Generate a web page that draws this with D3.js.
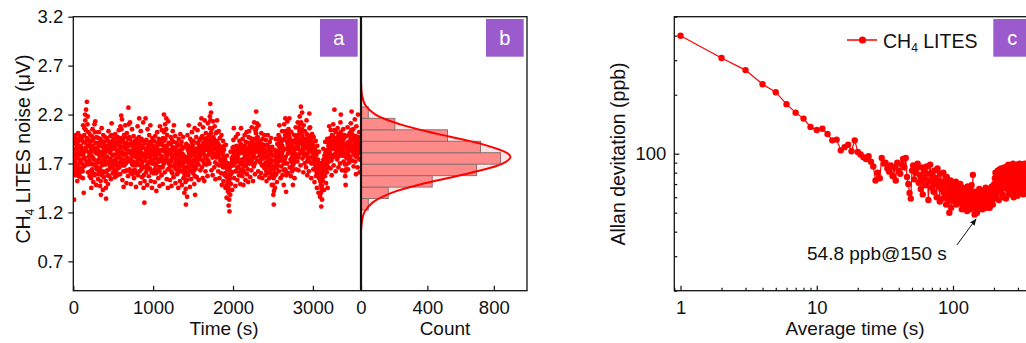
<!DOCTYPE html>
<html><head><meta charset="utf-8">
<script src="https://cdn.jsdelivr.net/npm/d3@7"></script>
<style>body{margin:0;background:#fff;overflow:hidden} text{font-family:"Liberation Sans",Arial,sans-serif;fill:#111}</style>
</head><body><svg id="c" width="1026" height="343"></svg>
<script>
// ---------- data ----------
// panel a: LITES noise (uV); series A sampled at 0,5,10,... s, series B at 2.5,7.5,12.5,... s
const noiseStep = 5;
const noiseA = [
1.62,1.85,1.33,1.94,1.71,1.58,1.99,1.80,1.66,1.90,1.52,1.77,2.01,1.69,1.84,1.60,1.95,1.73,1.56,1.88,
1.79,1.64,1.97,1.83,1.55,1.92,1.40,1.75,2.06,1.68,2.14,1.86,2.25,1.72,2.33,1.94,2.18,1.61,2.02,1.77,
1.88,1.57,1.99,1.70,1.82,1.45,1.93,1.64,2.05,1.76,1.51,1.86,1.69,2.10,1.59,2.13,1.81,1.48,1.97,1.73,
1.66,1.91,1.54,1.83,2.02,1.62,1.78,1.47,1.95,1.38,1.71,2.06,1.58,1.87,1.43,1.99,1.74,1.61,1.92,1.69,
1.81,1.52,1.34,1.76,1.96,1.63,1.85,1.49,2.03,1.72,1.57,1.90,1.67,1.98,1.54,1.84,2.11,1.70,1.93,1.60,
1.78,1.95,1.64,1.87,1.56,2.00,1.73,1.61,1.92,1.83,1.58,1.97,1.69,1.81,2.04,1.66,1.89,1.59,2.08,1.75,
2.19,1.71,2.15,1.53,1.94,1.79,1.46,1.99,1.68,1.86,2.09,1.62,1.91,1.50,2.01,1.76,1.88,1.57,2.27,1.83,
1.97,1.64,2.12,1.72,1.49,1.89,1.78,2.05,1.59,1.84,1.68,1.98,1.55,1.81,1.93,1.63,1.87,1.46,1.76,1.95,
1.70,2.08,1.58,1.92,1.79,2.16,1.62,1.85,1.50,2.03,1.74,1.95,1.56,1.88,1.67,2.12,1.45,1.80,1.30,1.91,
1.73,2.16,1.61,1.94,1.82,1.48,2.05,1.69,1.87,1.57,1.99,1.76,1.64,2.09,1.52,1.90,1.79,1.45,1.96,1.71,
1.84,1.60,1.93,1.75,1.51,1.98,1.68,1.86,1.42,1.80,2.02,1.63,1.89,1.55,1.95,1.72,1.47,2.08,1.66,1.83,
1.92,1.58,2.04,1.77,1.49,1.96,1.69,2.20,1.85,1.61,2.10,1.74,1.88,2.16,1.54,1.99,1.81,1.45,2.13,1.70,
1.65,1.90,1.53,1.83,1.97,1.72,1.47,1.94,1.60,2.03,1.78,1.56,2.09,1.86,1.66,1.98,1.50,1.82,1.73,1.91,
1.59,1.88,1.70,1.45,1.95,1.64,1.81,1.52,2.00,1.75,1.62,1.92,1.48,1.85,1.69,1.97,1.55,1.78,1.40,1.87,
1.73,1.51,1.28,1.90,1.66,1.36,1.99,1.77,1.58,2.09,1.62,1.86,1.46,1.95,1.71,1.54,1.83,2.02,1.67,1.89,
1.60,1.93,1.74,1.49,2.06,1.38,1.85,1.65,1.97,1.56,1.80,2.04,1.69,1.91,1.53,1.87,1.76,2.10,1.63,1.95,
1.81,2.16,1.66,1.98,1.55,2.07,1.74,1.89,1.52,2.14,1.78,1.62,2.01,1.85,1.69,1.96,1.57,2.11,1.73,1.88,
1.99,1.70,2.18,2.31,1.84,2.22,1.63,2.05,1.92,1.58,2.13,1.79,1.95,1.66,2.08,1.87,1.54,2.01,1.76,1.93,
2.14,1.69,1.90,1.62,2.03,1.80,1.55,1.96,1.73,1.87,1.60,1.99,1.48,1.82,1.67,1.93,1.52,1.77,1.88,1.58,
1.74,1.45,1.89,1.57,1.35,1.78,1.63,1.42,1.70,1.27,1.52,1.21,1.66,1.38,1.82,1.49,1.60,1.75,1.43,1.86,
1.68,1.94,2.06,1.55,1.81,1.71,1.47,1.97,1.62,1.88,1.76,1.53,2.00,1.66,1.85,1.58,1.93,1.73,1.49,1.90,
2.06,1.64,1.83,1.57,1.95,1.72,1.48,1.87,1.61,1.99,1.78,1.53,1.92,1.68,2.02,1.59,1.84,1.74,1.51,1.97,
2.03,1.70,1.88,1.56,1.96,1.79,1.63,2.07,1.74,1.90,1.52,1.85,1.67,2.12,1.81,1.59,2.04,1.76,2.23,1.89,
2.11,1.73,1.97,1.62,2.09,1.84,1.56,1.93,1.71,1.88,1.60,2.01,1.79,1.55,1.95,1.68,1.86,1.76,1.99,1.65,
1.82,1.58,1.94,1.71,1.52,1.89,1.66,1.99,1.77,1.60,1.85,1.55,1.92,1.74,1.63,1.96,1.69,1.48,1.87,1.73,
1.57,1.38,1.28,1.66,1.84,1.45,1.72,1.95,1.59,1.81,1.51,1.90,1.68,1.77,1.99,1.62,2.09,1.74,1.86,1.55,
1.91,1.67,1.80,2.03,1.58,1.94,1.73,1.48,2.10,1.85,1.64,2.16,1.77,1.41,1.98,1.70,2.13,1.89,1.60,2.05,
1.83,2.16,1.66,1.95,1.74,1.57,2.02,1.88,1.62,1.79,1.48,1.93,1.70,1.99,1.55,1.86,1.76,2.07,1.64,1.90,
1.97,1.72,2.12,1.85,1.63,2.06,1.79,2.18,1.93,1.68,2.28,2.01,1.83,2.22,1.75,1.96,1.61,2.09,1.88,1.70,
2.03,1.80,1.92,1.66,2.14,1.87,1.58,1.99,1.74,1.90,1.62,2.21,1.84,2.07,1.71,1.95,1.55,1.86,2.00,1.77,
1.89,1.64,1.97,1.73,1.51,1.85,1.68,1.93,1.57,1.79,1.45,1.88,1.62,1.74,1.40,1.82,1.55,1.70,1.36,1.66,
1.48,1.26,1.59,1.33,1.71,1.52,1.85,1.64,1.43,1.78,1.57,1.92,1.69,1.50,1.83,1.61,1.95,1.45,1.75,1.88,
1.72,2.08,1.81,1.96,1.65,2.04,1.87,1.58,1.99,1.76,1.91,2.10,1.68,1.85,2.25,1.79,1.94,1.62,2.02,1.83,
1.95,1.74,2.06,1.88,1.66,2.00,1.81,1.93,1.70,2.12,2.20,1.84,1.97,1.63,1.91,1.78,2.05,1.72,1.89,1.99,
1.80,1.57,1.48,1.86,1.69,1.98,1.75,2.07,1.64,1.92,1.83,1.71,2.01,1.90,1.77,2.11,1.85,2.23,1.96,1.73,
1.88,2.05,1.67,1.94,1.79,2.15,1.72,1.98,1.59,2.08,1.84,1.92,1.66,2.20,1.87,1.75,2.02,1.61,1.93,1.81
];
const noiseB = [
1.78,1.66,1.90,1.72,1.84,1.61,1.95,1.75,1.69,1.87,1.63,1.92,1.79,1.57,1.83,1.71,1.98,1.65,1.81,1.74,
1.86,1.70,1.93,1.62,2.09,1.80,1.67,1.99,1.76,2.20,1.91,2.04,1.83,1.96,1.72,2.10,1.88,1.69,1.94,1.81,
1.73,1.92,1.62,1.85,1.55,1.78,1.98,1.69,1.88,1.60,1.95,1.74,1.83,1.58,2.02,1.91,1.67,1.86,1.64,1.80,
1.84,1.71,1.96,1.59,1.88,1.75,1.65,1.91,1.52,1.80,1.93,1.68,1.82,1.62,1.78,1.89,1.56,1.85,1.73,1.97,
1.69,1.45,1.62,1.88,1.77,1.94,1.58,1.83,1.70,1.92,1.64,1.81,1.75,1.86,1.67,1.99,1.90,1.79,1.72,1.85,
1.87,1.73,1.91,1.68,1.79,1.85,1.62,1.97,1.75,1.70,1.89,1.65,1.83,1.94,1.77,1.92,1.71,1.86,1.96,1.80,
2.05,1.92,1.82,1.68,1.87,1.62,1.74,1.91,1.79,1.97,1.85,1.70,1.80,1.63,1.89,1.83,1.72,1.95,2.10,1.90,
1.81,1.88,1.95,1.61,1.74,1.82,1.91,1.69,1.78,1.72,1.89,1.63,1.86,1.71,1.85,1.77,1.68,1.60,1.90,1.83,
1.87,1.79,1.73,1.84,1.97,1.91,1.75,1.68,1.82,1.88,1.64,1.80,1.71,1.77,1.93,1.86,1.58,1.66,1.52,1.79,
1.92,1.85,1.76,1.83,1.68,1.64,1.89,1.80,1.71,1.79,1.86,1.65,1.92,1.84,1.74,1.81,1.61,1.70,1.83,1.88,
1.71,1.79,1.83,1.64,1.70,1.86,1.77,1.60,1.68,1.91,1.85,1.74,1.72,1.82,1.80,1.62,1.66,1.93,1.78,1.75,
1.76,1.84,1.89,1.66,1.72,1.83,1.93,2.02,1.71,1.86,1.95,1.80,2.05,1.87,1.77,1.82,1.64,1.73,1.91,1.84,
1.80,1.72,1.68,1.90,1.81,1.62,1.75,1.77,1.87,1.84,1.67,1.92,1.79,1.76,1.85,1.70,1.73,1.64,1.83,1.78,
1.74,1.79,1.61,1.68,1.82,1.73,1.67,1.84,1.78,1.89,1.76,1.70,1.72,1.80,1.86,1.63,1.71,1.66,1.59,1.75,
1.62,1.44,1.58,1.75,1.53,1.71,1.84,1.66,1.88,1.81,1.74,1.69,1.77,1.83,1.63,1.70,1.92,1.79,1.86,1.72,
1.79,1.82,1.63,1.78,1.57,1.68,1.73,1.85,1.71,1.76,1.91,1.82,1.80,1.69,1.74,1.83,1.94,1.86,1.78,1.84,
1.96,1.88,1.84,1.73,1.82,1.91,1.80,1.70,1.86,1.95,1.69,1.84,1.93,1.77,1.87,1.74,1.89,1.92,1.83,1.79,
1.86,1.94,2.06,2.14,2.01,1.90,1.82,1.96,1.76,1.88,1.97,1.85,1.80,1.91,1.93,1.71,1.78,1.87,1.84,2.02,
1.92,1.81,1.77,1.85,1.89,1.68,1.79,1.83,1.80,1.74,1.86,1.69,1.72,1.75,1.81,1.66,1.70,1.84,1.73,1.67,
1.60,1.66,1.71,1.48,1.56,1.69,1.52,1.58,1.45,1.40,1.33,1.50,1.55,1.62,1.59,1.70,1.68,1.61,1.73,1.77,
1.82,1.87,1.79,1.70,1.75,1.62,1.83,1.78,1.74,1.81,1.66,1.77,1.85,1.73,1.71,1.80,1.84,1.61,1.69,1.86,
1.89,1.74,1.70,1.81,1.84,1.63,1.68,1.75,1.82,1.88,1.67,1.79,1.80,1.86,1.77,1.72,1.78,1.64,1.76,1.91,
1.86,1.80,1.73,1.82,1.89,1.71,1.85,1.92,1.83,1.77,1.69,1.78,1.88,1.95,1.70,1.84,1.90,2.01,2.06,1.94,
1.96,1.87,1.82,1.86,1.91,1.72,1.78,1.81,1.80,1.74,1.85,1.90,1.68,1.77,1.83,1.79,1.75,1.89,1.84,1.76,
1.70,1.77,1.81,1.62,1.69,1.76,1.84,1.88,1.67,1.73,1.70,1.79,1.83,1.68,1.80,1.82,1.59,1.66,1.78,1.65,
1.48,1.55,1.42,1.61,1.67,1.58,1.80,1.76,1.70,1.65,1.74,1.79,1.83,1.72,1.88,1.94,1.97,1.81,1.73,1.78,
1.79,1.86,1.93,1.88,1.76,1.83,1.63,1.70,1.95,1.74,1.99,2.03,1.62,1.58,1.85,1.92,2.01,1.80,1.84,1.94,
1.98,1.93,1.82,1.86,1.66,1.72,1.90,1.76,1.71,1.68,1.64,1.81,1.84,1.78,1.73,1.80,1.91,1.95,1.79,1.85,
1.87,1.94,1.99,1.76,1.89,1.92,2.03,2.10,1.82,1.95,2.12,1.90,2.05,1.98,1.86,1.83,1.80,1.93,1.78,1.88,
1.91,1.86,1.79,1.95,2.00,1.72,1.77,1.89,1.84,1.81,1.93,2.06,1.97,1.88,1.83,1.76,1.70,1.92,1.87,1.81,
1.76,1.83,1.80,1.64,1.71,1.77,1.82,1.75,1.69,1.61,1.66,1.73,1.68,1.58,1.62,1.70,1.63,1.55,1.52,1.57,
1.40,1.44,1.47,1.55,1.62,1.68,1.74,1.58,1.65,1.70,1.76,1.81,1.63,1.72,1.78,1.84,1.68,1.66,1.82,1.79,
1.90,1.93,1.86,1.80,1.84,1.95,1.73,1.78,1.87,1.89,1.98,1.92,1.77,1.96,2.04,1.88,1.80,1.85,1.91,1.94,
1.84,1.90,1.97,1.77,1.83,1.91,1.87,1.82,1.95,2.02,1.99,1.90,1.78,1.85,1.84,1.93,1.88,1.81,1.96,1.86,
1.69,1.62,1.64,1.76,1.81,1.85,1.91,1.88,1.79,1.83,1.75,1.87,1.92,1.84,1.95,1.98,2.04,2.01,1.86,1.82,
1.93,1.96,1.80,1.86,1.98,1.90,1.83,1.77,1.85,1.94,1.88,1.79,1.92,1.97,1.81,1.84,1.89,1.74,1.86,1.91
];
const noiseTicks = [0.7, 1.2, 1.7, 2.2, 2.7, 3.2];
const timeTicks = [0, 1000, 2000, 3000];

// panel b: histogram of the noise
const histBinEdges = [1.225, 1.342, 1.459, 1.576, 1.693, 1.810, 1.927, 2.044, 2.161, 2.278];
const histCounts = [44, 164, 429, 696, 840, 720, 521, 204, 44];
const fitNoise = [1.02, 1.10, 1.20, 1.30, 1.40, 1.50, 1.60, 1.70, 1.765, 1.80, 1.90, 2.00, 2.10, 2.20, 2.30, 2.40, 2.52];
const fitCount = [1, 5, 20, 69, 184, 390, 651, 856, 900, 887, 725, 467, 237, 88, 25, 6, 1];
const countTicks = [0, 400, 800];

// panel c: Allan deviation (ppb) for averaging times 1,2,3,... s
const allanDev = [
400,308,267,226,206,179,162,151,137,132,134,126,117,118,104,108,111,103,117,102,
99,96,94,97,91,86,73,80,75,95,
89,90,84,81,87,77,85,73,90,82,
79,88,94,85,95,76,70,63,59,82,
87,74,80,84,89,71,78,66,85,62,
75,81,69,86,73,58,79,88,72,67,
77,64,82,70,75,60,84,68,73,57,
79,66,71,59,80,63,69,74,55,76,
62,70,58,50,67,73,53,65,60,71,
64,57,69,61,72,55,66,59,63,68,
56,62,70,58,65,52,60,67,54,63,
59,66,53,61,57,64,51,68,58,62,
55,60,65,52,63,57,69,54,61,78,
58,62,53,49,60,56,64,51,59,50,
57,63,54,60,52,66,58,55,61,53,
59,65,56,62,52,58,64,55,60,57,
63,54,59,67,56,61,53,58,65,57,
60,55,62,58,66,53,61,57,64,59,
56,62,68,58,63,55,60,66,59,64,
70,62,75,66,80,60,72,68,77,63,
74,69,82,65,78,71,58,76,67,83,
72,79,64,75,70,84,66,77,73,62,
78,69,81,74,60,76,71,85,67,79,
73,82,68,77,59,75,80,70,86,72,
78,66,83,74,88,70,76,62,81,73,
79,68,85,75,71,87,64,77,82,69,
86,74,80,66,78,89,72,76,60,83,
75,81,70,87,73,78,64,84,71,79,
68,82,76,88,72,80,61,77,85,74,
79,70,86,73,81,66,77,89,72,83,
75,80,63,84,71,78,87,69,82,74,
88,76,81,67,79,85,72,78,62,83,
77,86,70,80,74,89,68,81,76,84,
73,79,87,71,82,66,78,85,75,80
];
const tauMajorTicks = [1, 10, 100];
const tauDecades = [1, 10, 100, 1000];
const devMajorTicks = [100];
const annotation = {text: "54.8 ppb@150 s", tau: 150, dev: 48.7};

// ---------- drawing ----------
const svg = d3.select('#c');
const RED = '#ff0000', PURPLE = '#9c5bcd';
const TICK_FS = '18.5px', TITLE_FS = '19px';

const pTop = 16.7, pBottom = 290.7;
const xa = d3.scaleLinear().domain([0, 3600]).range([73.3, 360.8]);
const ya = d3.scaleLinear().domain([0.4, 3.2]).range([pBottom, pTop]);
const xb = d3.scaleLinear().domain([0, 1000]).range([361, 527]);
const xc = d3.scaleLog().domain([0.9, 1200]).range([674.3, 1100]);
const yc = d3.scaleLog().domain([20, 500]).range([pBottom, pTop]);

const defs = svg.append('defs');
defs.append('clipPath').attr('id', 'clipA').append('rect')
  .attr('x', xa.range()[0]).attr('y', pTop).attr('width', xa.range()[1] - xa.range()[0]).attr('height', pBottom - pTop);
defs.append('clipPath').attr('id', 'clipC').append('rect')
  .attr('x', xc.range()[0]).attr('y', pTop).attr('width', xc.range()[1] - xc.range()[0]).attr('height', pBottom - pTop);
defs.append('marker').attr('id', 'arr').attr('viewBox', '0 0 10 10').attr('refX', 9).attr('refY', 5)
  .attr('markerWidth', 7).attr('markerHeight', 7).attr('orient', 'auto')
  .append('path').attr('d', 'M0,1 L10,5 L0,9 Z').attr('fill', '#111');

function styleAxis(g, fs) {
  g.select('.domain').remove();
  g.selectAll('line').attr('stroke', '#111').attr('stroke-width', 1.2);
  g.selectAll('text').attr('font-size', fs).attr('font-family', '"Liberation Sans", Arial, sans-serif').attr('fill', '#111');
}

// ----- panel a -----
const gA = svg.append('g').attr('clip-path', 'url(#clipA)');
const noisePts = noiseA.map((v, i) => [i * noiseStep, v])
  .concat(noiseB.map((v, i) => [i * noiseStep + noiseStep / 2, v]));
gA.selectAll('circle').data(noisePts).join('circle')
  .attr('cx', d => xa(d[0])).attr('cy', d => ya(d[1])).attr('r', 2.4).attr('fill', RED);

svg.append('g').attr('transform', `translate(${xa.range()[0]},0)`)
  .call(d3.axisLeft(ya).tickValues(noiseTicks).tickFormat(d3.format('.1f')).tickSize(5).tickPadding(5))
  .call(g => styleAxis(g, TICK_FS));
svg.append('g').attr('transform', `translate(0,${pBottom})`)
  .call(d3.axisBottom(xa).tickValues(timeTicks).tickFormat(d3.format('d')).tickSizeInner(-5).tickSizeOuter(0).tickPadding(10.5))
  .call(g => styleAxis(g, TICK_FS));

// ----- panel b -----
const area = d3.area().y(d => ya(d[0])).x0(xb(0)).x1(d => xb(d[1])).curve(d3.curveCatmullRom);
const line = d3.line().y(d => ya(d[0])).x(d => xb(d[1])).curve(d3.curveCatmullRom);
const fitPts = fitNoise.map((v, i) => [v, fitCount[i]]);
svg.append('path').attr('d', area(fitPts)).attr('fill', '#fde2e2');
svg.append('g').selectAll('rect').data(histCounts).join('rect')
  .attr('x', xb(0)).attr('y', (d, i) => ya(histBinEdges[i + 1]))
  .attr('width', d => xb(d) - xb(0)).attr('height', (d, i) => ya(histBinEdges[i]) - ya(histBinEdges[i + 1]))
  .attr('fill', '#ff8a8a').attr('stroke', '#8c7070').attr('stroke-width', 1);
svg.append('path').attr('d', line(fitPts)).attr('fill', 'none').attr('stroke', RED).attr('stroke-width', 2);

svg.append('g').attr('transform', `translate(0,${pBottom})`)
  .call(d3.axisBottom(xb).tickValues(countTicks).tickFormat(d3.format('d')).tickSizeInner(-5).tickSizeOuter(0).tickPadding(10.5))
  .call(g => styleAxis(g, TICK_FS));

// frames a & b
svg.append('rect').attr('x', xa.range()[0]).attr('y', pTop).attr('width', xb.range()[1] - xa.range()[0]).attr('height', pBottom - pTop)
  .attr('fill', 'none').attr('stroke', '#111').attr('stroke-width', 1.3);
svg.append('line').attr('x1', xb(0)).attr('x2', xb(0)).attr('y1', pTop).attr('y2', pBottom)
  .attr('stroke', '#111').attr('stroke-width', 2.2);

// ----- panel c -----
const gC = svg.append('g').attr('clip-path', 'url(#clipC)');
const allanPts = allanDev.map((v, i) => [i + 1, v]);
gC.append('path').attr('d', d3.line().x(d => xc(d[0])).y(d => yc(d[1]))(allanPts))
  .attr('fill', 'none').attr('stroke', RED).attr('stroke-width', 1.2);
gC.selectAll('circle').data(allanPts).join('circle')
  .attr('cx', d => xc(d[0])).attr('cy', d => yc(d[1])).attr('r', 3.2).attr('fill', RED);

const xMinor = xc.ticks().filter(t => !tauDecades.includes(t) && xc(t) < 1026);
const yMinor = yc.ticks().filter(t => !devMajorTicks.includes(t));
svg.append('g').attr('transform', `translate(0,${pBottom})`)
  .call(d3.axisBottom(xc).tickValues(tauMajorTicks).tickFormat(d3.format('d')).tickSizeInner(-5).tickSizeOuter(0).tickPadding(10.5))
  .call(g => styleAxis(g, TICK_FS));
svg.append('g').attr('transform', `translate(0,${pBottom})`)
  .call(d3.axisBottom(xc).tickValues(xMinor).tickFormat('').tickSizeInner(-3).tickSizeOuter(0))
  .call(g => styleAxis(g, TICK_FS));
svg.append('g').attr('transform', `translate(${xc.range()[0]},0)`)
  .call(d3.axisLeft(yc).tickValues(devMajorTicks).tickFormat(d3.format('d')).tickSizeInner(-5).tickSizeOuter(0).tickPadding(8))
  .call(g => styleAxis(g, TICK_FS));
svg.append('g').attr('transform', `translate(${xc.range()[0]},0)`)
  .call(d3.axisLeft(yc).tickValues(yMinor).tickFormat('').tickSizeInner(-3).tickSizeOuter(0))
  .call(g => styleAxis(g, TICK_FS));
svg.append('rect').attr('x', xc.range()[0]).attr('y', pTop).attr('width', xc.range()[1] - xc.range()[0]).attr('height', pBottom - pTop)
  .attr('fill', 'none').attr('stroke', '#111').attr('stroke-width', 1.3);

// legend c
svg.append('line').attr('x1', 847).attr('x2', 877).attr('y1', 40).attr('y2', 40).attr('stroke', RED).attr('stroke-width', 1.5);
svg.append('circle').attr('cx', 862.5).attr('cy', 40).attr('r', 3.6).attr('fill', RED);
const lg = svg.append('text').attr('x', 883).attr('y', 48).attr('font-size', '19.5px');
lg.append('tspan').text('CH');
lg.append('tspan').attr('font-size', '12px').attr('dy', 4).text('4');
lg.append('tspan').attr('dy', -4).text(' LITES');

// annotation
const ax = xc(annotation.tau), ay = yc(annotation.dev);
svg.append('line').attr('x1', ax - 20).attr('y1', ay + 30).attr('x2', ax - 1).attr('y2', ay + 4)
  .attr('stroke', '#111').attr('stroke-width', 1).attr('marker-end', 'url(#arr)');
svg.append('text').attr('x', 807).attr('y', 260).attr('font-size', '19px').text(annotation.text);

// axis titles
svg.append('text').attr('x', 224).attr('y', 334.5).attr('text-anchor', 'middle').attr('font-size', TITLE_FS).text('Time (s)');
svg.append('text').attr('x', 445).attr('y', 334.5).attr('text-anchor', 'middle').attr('font-size', TITLE_FS).text('Count');
svg.append('text').attr('x', 855).attr('y', 334.5).attr('text-anchor', 'middle').attr('font-size', TITLE_FS).text('Average time (s)');
const yt = svg.append('text').attr('transform', 'translate(30,149) rotate(-90)').attr('text-anchor', 'middle').attr('font-size', '19.5px');
yt.append('tspan').text('CH');
yt.append('tspan').attr('font-size', '12px').attr('dy', 4).text('4');
yt.append('tspan').attr('dy', -4).text(' LITES noise (μV)');
svg.append('text').attr('transform', 'translate(625,154) rotate(-90)').attr('text-anchor', 'middle').attr('font-size', '19.5px')
  .text('Allan devitation (ppb)');

// panel labels
const labels = [{t: 'a', x: 320}, {t: 'b', x: 486}, {t: 'c', x: 993.3}];
labels.forEach(l => {
  svg.append('rect').attr('x', l.x).attr('y', 19).attr('width', 37.7).attr('height', 37.7).attr('fill', PURPLE);
  svg.append('text').attr('x', l.x + 18.85).attr('y', 45).attr('text-anchor', 'middle').attr('font-size', '20px')
    .style('fill', '#fff').text(l.t);
});
</script>
</body></html>
